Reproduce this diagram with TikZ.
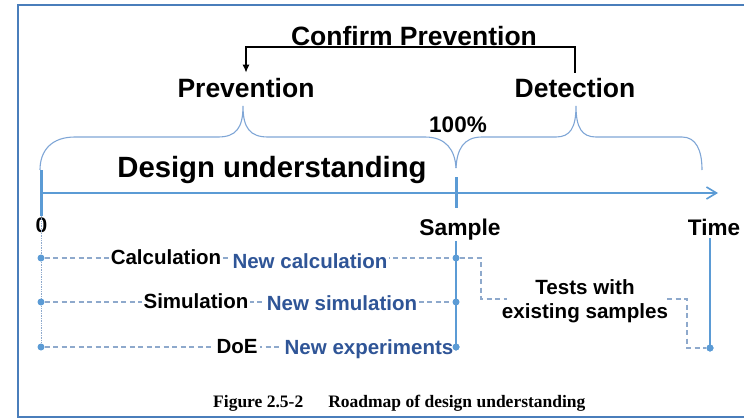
\documentclass[tikz,border=0pt]{standalone}
\usepackage{fontspec}
\setmainfont{Liberation Sans}
\newfontfamily\capfont{Liberation Serif}
\usetikzlibrary{arrows.meta}

\definecolor{frameblue}{HTML}{4A7EBB}
\definecolor{axisblue}{HTML}{5B9BD5}
\definecolor{braceblue}{HTML}{7FA6D6}
\definecolor{dashblue}{HTML}{8EA9CC}
\definecolor{textblue}{HTML}{2F5597}

\newcommand\fsz[1]{\fontsize{#1}{#1}\selectfont}

\begin{document}
\begin{tikzpicture}[x=1pt,y=-1pt,
  lbl/.style={inner sep=0pt, anchor=base, font=\bfseries},
  rowlbl/.style={inner sep=0pt, inner xsep=2pt, anchor=base, fill=white, font={\bfseries\fsz{20.5}}},
  bluelbl/.style={rowlbl, text=textblue},
  frameline/.style={draw=frameblue, line width=2pt},
  bracestyle/.style={draw=braceblue, line width=1.1pt},
  axisline/.style={draw=axisblue, line width=1.6pt},
  tickline/.style={draw=axisblue, line width=3pt},
  dashln/.style={draw=dashblue, line width=1.2pt, dash pattern=on 5pt off 3.5pt},
  dotln/.style={draw=dashblue, line width=0.7pt, densely dotted},
  solidln/.style={draw=axisblue, line width=1.4pt},
  dotnode/.style={circle, fill=axisblue, inner sep=0pt, minimum size=7pt},
  conn/.style={draw=black, line width=1.2pt}
]
\useasboundingbox (0,0) rectangle (744,418);

% frame (open to the right)
\draw[frameline] (760,5) -- (18,5) -- (18,417) -- (760,417);

% braces above the time axis
\draw[bracestyle] (40,170) .. controls (40,150) and (52,137) .. (75,137) -- (218,137)
  .. controls (236,137) and (243,128) .. (243,106)
  .. controls (243,128) and (250,137) .. (268,137) -- (425,137)
  .. controls (446,137) and (455,150) .. (456,168);
\draw[bracestyle] (456,168) .. controls (457,150) and (463,137) .. (482,137) -- (556,137)
  .. controls (570,137) and (576,128) .. (576,106)
  .. controls (576,128) and (582,137) .. (596,137) -- (682,137)
  .. controls (696,137) and (702,150) .. (702,170);

% time axis with ticks
\coordinate (t0) at (40,193);
\coordinate (tend) at (718,193);
\draw[axisline, -{Straight Barb[length=10pt,width=12pt]}] (t0) -- (tend);
\coordinate (tick0a) at (41,170);
\coordinate (tick0b) at (41,216);
\coordinate (tick1a) at (456,177);
\coordinate (tick1b) at (456,208);
\draw[tickline] (tick0a) -- (tick0b);
\draw[tickline] (tick1a) -- (tick1b);

% top labels
\node[lbl, font={\bfseries\fsz{26.5}}] (confirm) at (414,45) {Confirm Prevention};
\node[lbl, font={\bfseries\fsz{26.5}}] (prevent) at (246,97) {Prevention};
\node[lbl, font={\bfseries\fsz{26.5}}] (detect) at (575,97) {Detection};
\node[lbl, font={\bfseries\fsz{22.5}}] (pct) at (458,132) {100\%};
\node[lbl, font={\bfseries\fsz{29.3}}] (design) at (272,177) {Design understanding};
\node[lbl, font={\bfseries\fsz{21}}] (zero) at (41.5,232) {0};
\node[lbl, font={\bfseries\fsz{22.8}}] (sample) at (460,235) {Sample};
\node[lbl, font={\bfseries\fsz{22.5}}] (time) at (714,235) {Time};

% confirm-prevention connector
\coordinate (bar) at (0,47);
\draw[conn, shorten <=5pt, shorten >=5pt, -{Latex[length=8pt,width=7pt]}]
  (detect.north) -- (detect.north |- bar) -- (prevent.north |- bar) -- (prevent.north);

% dotted guide below the origin tick
\coordinate (c3guide) at (41,347);
\draw[dotln] (tick0b) -- (c3guide);

% row dots
\node[dotnode] (c1) at (41,258) {};
\node[dotnode] (c2) at (41,302) {};
\node[dotnode] (c3) at (41,347) {};
\node[dotnode] (s1) at (456,258) {};
\node[dotnode] (s2) at (456,302) {};
\node[dotnode] (s3) at (456,347) {};
\node[dotnode] (t3) at (710,348) {};

% dashed rows
\draw[dashln] (c1) -- (s1);
\draw[dashln] (c2) -- (s2);
\draw[dashln] (c3) -- (s3);

% tests with existing samples (base anchor sits on the last line)
\node[lbl, font={\bfseries\fsz{20.6}}, align=center] (tests) at (585,318)
  {Tests with\\[3pt]existing samples};
\coordinate (k1) at (481,258);
\coordinate (tin) at (507,299);
\coordinate (tout) at (667,299);
\coordinate (k2) at (687,299);
\draw[dashln] (s1) -- (k1) |- (tin);
\draw[dashln] (tout) -- (k2) |- (t3);

% row labels
\node[rowlbl] (calc) at (166,264) {Calculation};
\node[rowlbl] (sim) at (196,308) {Simulation};
\node[rowlbl] (doe) at (237,353) {DoE};
\node[bluelbl] (ncalc) at (310,268) {New calculation};
\node[bluelbl] (nsim) at (342,310) {New simulation};
\node[bluelbl] (nexp) at (369,354) {New experiments};

% solid verticals at sample and time
\draw[solidln, shorten <=1pt] (s1 |- sample.south) -- (s3.center);
\draw[solidln, shorten <=3pt] (t3 |- time.south) -- (t3.center);
\node[dotnode] at (s3) {};
\node[dotnode] at (t3) {};

% caption
\node[inner sep=0pt, anchor=base west, font={\capfont\bfseries\fsz{17.5}}] (caption) at (213,407)
  {Figure 2.5-2\hspace{25pt}Roadmap of design understanding};
\end{tikzpicture}
\end{document}
